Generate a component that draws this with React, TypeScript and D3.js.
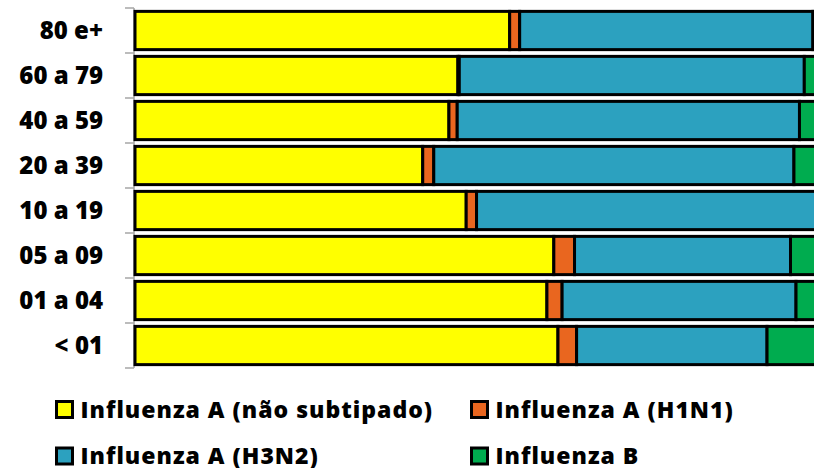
import React, { useEffect, useRef } from "react";
import * as d3 from "d3";

// age groups, top to bottom
const categories = ["80 e+", "60 a 79", "40 a 59", "20 a 39", "10 a 19", "05 a 09", "01 a 04", "< 01"];

// percent share per age group
const naoSubtipado = [54.3, 46.8, 45.5, 41.7, 48.0, 60.7, 59.7, 61.3];
const h1n1 = [1.45, 0.2, 1.2, 1.6, 1.5, 3.0, 2.2, 2.7];
const h3n2 = [42.5, 50.0, 49.6, 52.2, 49.5, 31.3, 33.9, 27.6];
const influenzaB = [1.75, 3.0, 3.7, 4.5, 1.0, 5.0, 4.2, 8.4];

const seriesNames = ["Influenza A (não subtipado)", "Influenza A (H1N1)", "Influenza A (H3N2)", "Influenza B"];
const seriesColors = ["#FFFF00", "#E9661F", "#2CA1BF", "#00AC4F"];

const W = 814;
const H = 468;

const App = () => {
  const ref = useRef<SVGSVGElement>(null);

  useEffect(() => {
    const svg = d3.select(ref.current);
    svg.selectAll("*").remove();

    const rows = categories.map((c, i) => ({
      cat: c,
      v: [naoSubtipado[i], h1n1[i], h3n2[i], influenzaB[i]],
    }));
    const keys = [0, 1, 2, 3];
    const stacked = d3
      .stack<any, number>()
      .keys(keys as any)
      .value((d, k) => d.v[k])(rows);

    const y = d3
      .scaleBand()
      .domain(categories)
      .range([8, 368])
      .paddingInner(0.15)
      .paddingOuter(0.075);
    const x = d3.scaleLinear().domain([0, 100]).range([135, 825]);

    // axis line + ticks
    const axis = svg.append("g");
    axis
      .append("line")
      .attr("x1", 134)
      .attr("x2", 134)
      .attr("y1", 8)
      .attr("y2", 368)
      .attr("stroke", "#a6a6a6")
      .attr("stroke-width", 1.5);
    const step = y.step();
    axis
      .selectAll("line.tick")
      .data(d3.range(categories.length + 1))
      .join("line")
      .attr("class", "tick")
      .attr("x1", 125)
      .attr("x2", 134)
      .attr("y1", (i) => 8 + i * step)
      .attr("y2", (i) => 8 + i * step)
      .attr("stroke", "#a6a6a6")
      .attr("stroke-width", 1.5);

    axis
      .selectAll("text")
      .data(categories)
      .join("text")
      .attr("x", 103)
      .attr("y", (d) => (y(d) as number) + y.bandwidth() / 2)
      .attr("dy", "0.36em")
      .attr("text-anchor", "end")
      .style("font-family", "'Open Sans', sans-serif")
      .style("font-weight", 800)
      .style("font-size", "24px")
      .attr("fill", "#000")
      .text((d) => d);

    // bars
    svg
      .append("g")
      .selectAll("g")
      .data(stacked)
      .join("g")
      .attr("fill", (s) => seriesColors[s.key as any])
      .selectAll("rect")
      .data((s) => s)
      .join("rect")
      .attr("x", (d) => x(d[0]))
      .attr("width", (d) => x(d[1]) - x(d[0]))
      .attr("y", (d: any) => y(d.data.cat) as number)
      .attr("height", y.bandwidth())
      .attr("stroke", "#000")
      .attr("stroke-width", 3);

    // legend
    const lg = svg
      .append("g")
      .selectAll("g")
      .data(seriesNames)
      .join("g")
      .attr("transform", (d, i) => `translate(${i % 2 === 0 ? 56.5 : 471.5},${i < 2 ? 401.5 : 448})`);
    lg.append("rect")
      .attr("width", 16)
      .attr("height", 16)
      .attr("fill", (d, i) => seriesColors[i])
      .attr("stroke", "#000")
      .attr("stroke-width", 3);
    lg.append("text")
      .attr("x", 24)
      .attr("y", 16)
      .style("font-family", "'Open Sans', sans-serif")
      .style("font-weight", 800)
      .style("font-size", "23px")
      .style("letter-spacing", "1px")
      .attr("fill", "#000")
      .text((d) => d);
  }, []);

  return (
    <svg
      ref={ref}
      width={W}
      height={H}
      style={{ position: "absolute", left: 0, top: 0, background: "#fff" }}
    />
  );
};

export default App;
